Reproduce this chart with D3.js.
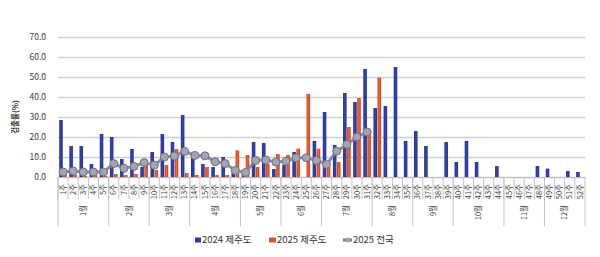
<!DOCTYPE html>
<html><head><meta charset="utf-8">
<script src="https://cdn.jsdelivr.net/npm/d3@7"></script>
<style>
body{margin:0;background:#fff}
svg{display:block}
text{font-family:"Noto Sans CJK KR","Noto Sans",sans-serif}
</style>
</head><body>
<svg id="c" width="600" height="257"></svg>
<script>
const weeks = ["1주","2주","3주","4주","5주","6주","7주","8주","9주","10주","11주","12주","13주","14주","15주","16주","17주","18주","19주","20주","21주","22주","23주","24주","25주","26주","27주","28주","29주","30주","31주","32주","33주","34주","35주","36주","37주","38주","39주","40주","41주","42주","43주","44주","45주","46주","47주","48주","49주","50주","51주","52주"];
const months = ["1월","2월","3월","4월","5월","6월","7월","8월","9월","10월","11월","12월"];
const monthWeekCounts = [5,4,4,5,4,4,5,4,4,5,4,4];
const jeju2024 = [28.5,15.5,15.5,6.5,21.5,20,9,14,5,12.5,21.5,17.5,31,10,6.5,5,10,3,2,17.5,17,4,6,12.5,0,18,32.5,16,42,37.5,54,34.5,35.5,55,18,23,15.5,0,17.5,7.5,18,7.5,0,5.5,0,0,0,5.5,4.2,0,3,2.5];
const jeju2025 = [1,1,0.5,1,0.5,1.5,1,1.5,6,3.5,6,14,2,1,5,1,1,13.3,11,5,6.5,11.5,11,14.2,41.5,14.2,5,7.5,25,39.5,22,49.7];
const national2025 = [2.5,3,2.5,2.5,2.5,6.7,4.4,5.3,7.2,5.9,10,10.5,12.8,10.8,10.6,7.6,6.7,3.3,2.3,8.3,8.5,7.5,7.9,9.6,9.6,8.3,6.3,12.9,16.3,20,22.5];
const yTicks = [0,10,20,30,40,50,60,70];
const seriesNames = ["2024 제주도","2025 제주도","2025 전국"];
const yTitle = "검출률(%)";

const pL = 58, pR = 585, pT = 37, pB = 177;
const blue = "#2c3da6", red = "#e4562a", gray = "#80808f";

const svg = d3.select("#c");
const defs = svg.append("defs");
function grad(id, c){
  const g = defs.append("linearGradient").attr("id", id).attr("x1","0").attr("x2","1").attr("y1","0").attr("y2","0");
  g.append("stop").attr("offset","0").attr("stop-color", d3.color(c).darker(0.6));
  g.append("stop").attr("offset","0.5").attr("stop-color", d3.color(c).brighter(0.3));
  g.append("stop").attr("offset","1").attr("stop-color", d3.color(c).darker(0.6));
}
grad("gb", blue); grad("gr", red);

const x = d3.scaleBand().domain(weeks).range([pL, pR]);
const xb = d3.scaleBand().domain(weeks).range([pL, pR]).paddingInner(0.25).paddingOuter(0.12);
const xs = d3.scaleBand().domain(["2024","2025"]).range([0, xb.bandwidth()]).paddingInner(0.12);
const y = d3.scaleLinear().domain([0, 70]).range([pB, pT]);

// y axis + grid
const ya = svg.append("g").attr("transform", `translate(${pL},0)`)
  .call(d3.axisLeft(y).tickValues(yTicks).tickSize(-(pR-pL)).tickPadding(12).tickFormat(d => d.toFixed(1)));
ya.select(".domain").remove();
ya.selectAll(".tick line").attr("stroke", "#cfcfcf").attr("stroke-width", 1.5);
ya.selectAll(".tick text").attr("fill", "#3a3a3a").attr("font-size", "8.5px").attr("font-family", "'Liberation Sans', Arial, sans-serif");

svg.append("text").attr("transform", "translate(15,117) rotate(-90)")
  .attr("text-anchor", "middle").attr("dy", "0.35em")
  .attr("font-size", "7.5px").attr("font-weight", "bold").attr("fill", "#333").text(yTitle);

// bars
svg.append("g").selectAll("rect").data(jeju2024).join("rect")
  .attr("x", (d,i) => xb(weeks[i]) + xs("2024"))
  .attr("width", xs.bandwidth())
  .attr("y", d => y(d)).attr("height", d => y(0) - y(d))
  .attr("fill", "url(#gb)");
svg.append("g").selectAll("rect").data(jeju2025).join("rect")
  .attr("x", (d,i) => xb(weeks[i]) + xs("2025"))
  .attr("width", xs.bandwidth())
  .attr("y", d => y(d)).attr("height", d => y(0) - y(d))
  .attr("fill", "url(#gr)");

// line
const lx = (d,i) => x(weeks[i]) + x.bandwidth()/2;
svg.append("path").datum(national2025)
  .attr("d", d3.line().x(lx).y(d => y(d)))
  .attr("fill", "none").attr("stroke", gray).attr("stroke-width", 3).attr("stroke-opacity", 0.9);
svg.append("g").selectAll("circle").data(national2025).join("circle")
  .attr("cx", lx).attr("cy", d => y(d)).attr("r", 4)
  .attr("fill", "#a3a3b3").attr("stroke", "#707082").attr("stroke-width", 1);

// x axis
const xa = svg.append("g").attr("transform", `translate(0,${pB})`)
  .call(d3.axisBottom(x).tickSize(0).tickPadding(0));
xa.select(".domain").attr("stroke", "#bdbdbd");
xa.selectAll(".tick text")
  .attr("y", 0).attr("dy", "0.35em")
  .attr("transform", "translate(0,7) rotate(-90)")
  .attr("text-anchor", "end")
  .attr("font-size", "7.5px").attr("fill", "#444");

// week separators
const sep = svg.append("g").attr("stroke", "#c4c4c4").attr("stroke-width", 1);
weeks.forEach((w,i) => {
  sep.append("line").attr("x1", x(w)).attr("x2", x(w)).attr("y1", pB).attr("y2", 199);
});
// month separators & labels
let acc = 0;
const monthBounds = [x(weeks[0])];
months.forEach((m,k) => {
  const a = acc, b = acc + monthWeekCounts[k];
  const x0 = x(weeks[a]), x1 = x(weeks[b-1]) + x.bandwidth();
  monthBounds.push(x1);
  svg.append("text").attr("transform", `translate(${(x0+x1)/2},205) rotate(-90)`)
    .attr("text-anchor", "end").attr("dy", "0.35em")
    .attr("font-size", "7.5px").attr("fill", "#444").text(m);
  acc = b;
});
monthBounds.forEach(v => {
  sep.append("line").attr("x1", v).attr("x2", v).attr("y1", pB).attr("y2", 226);
});

// legend
const lg = svg.append("g").attr("font-size", "9.5px").attr("fill", "#333");
lg.append("rect").attr("x", 195).attr("y", 237.5).attr("width", 6).attr("height", 5).attr("fill", blue);
lg.append("text").attr("x", 202).attr("y", 240).attr("dy", "0.35em").text(seriesNames[0]);
lg.append("rect").attr("x", 269).attr("y", 237.5).attr("width", 7).attr("height", 5).attr("fill", red);
lg.append("text").attr("x", 277).attr("y", 240).attr("dy", "0.35em").text(seriesNames[1]);
lg.append("line").attr("x1", 343).attr("x2", 352).attr("y1", 240).attr("y2", 240).attr("stroke", gray).attr("stroke-width", 3);
lg.append("circle").attr("cx", 348).attr("cy", 240).attr("r", 2.5).attr("fill", "#a3a3b3");
lg.append("text").attr("x", 353).attr("y", 240).attr("dy", "0.35em").text(seriesNames[2]);
</script>
</body></html>
